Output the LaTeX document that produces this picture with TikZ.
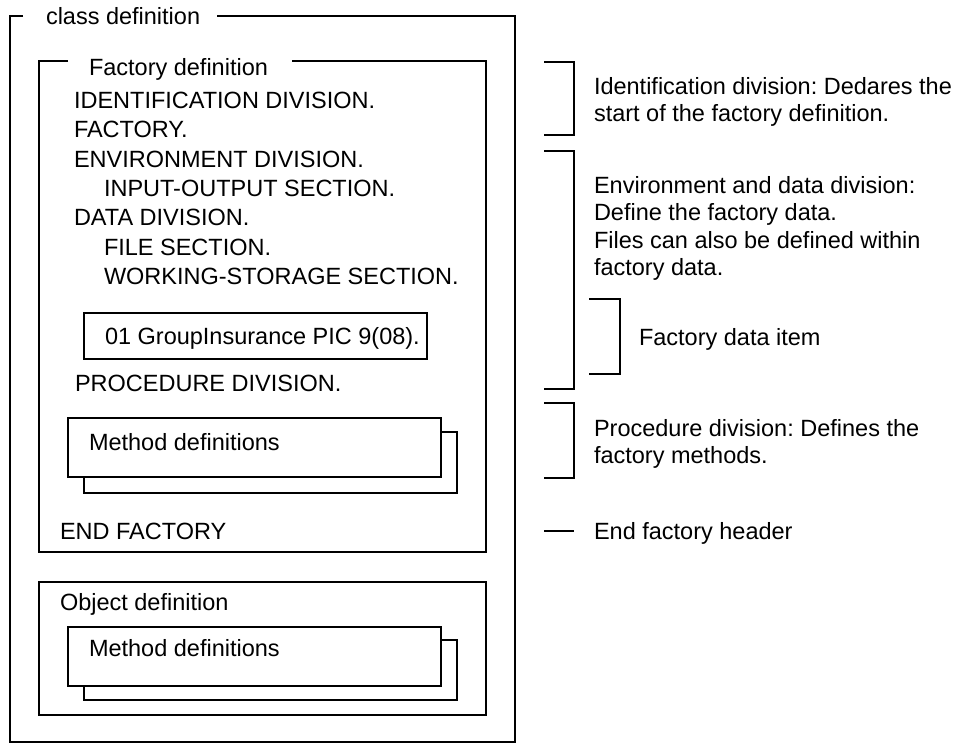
\documentclass[tikz,border=0pt]{standalone}
\usepackage{fontspec}
\setmainfont{Liberation Sans}
\frenchspacing
\begin{document}
\begin{tikzpicture}[x=0.5pt,y=-0.5pt,line width=1pt,line join=miter,
  txt/.style={anchor=base west,inner sep=0pt,font=\fontsize{11.75pt}{13.75pt}\selectfont\frenchspacing},
  note/.style={anchor=north west,inner sep=0pt,align=left,font=\fontsize{11.75pt}{13.75pt}\selectfont\frenchspacing},
  boxline/.style={draw=black,line width=1pt},
  sheet/.style={draw=black,fill=white,line width=1pt}]
\useasboundingbox (0,0) rectangle (961,744);
% class definition frame
\node[txt] (cls) at (45,24.4) {class definition};
\draw[boxline] (23,16) -- (10,16) -- (10,742) -- (515,742) -- (515,16) -- (217,16);
% factory definition frame
\node[txt] (fac) at (88,75.4) {Factory definition};
\draw[boxline] (68,61) -- (39,61) -- (39,552) -- (486,552) -- (486,61) -- (292,61);
\node[txt] (l1) at (73,108.4) {IDENTIFICATION DIVISION.};
\node[txt] (l2) at (73,137.9) {FACTORY.};
\node[txt] (l3) at (73,167.4) {ENVIRONMENT DIVISION.};
\node[txt] (l4) at (103,196.4) {INPUT-OUTPUT SECTION.};
\node[txt] (l5) at (73,225.9) {DATA DIVISION.};
\node[txt] (l6) at (103,255.4) {FILE SECTION.};
\node[txt] (l7) at (103,284.9) {WORKING-STORAGE SECTION.};
\draw[boxline] (84,313) rectangle (427,359);
\node[txt] (item) at (104,344.4) {01 GroupInsurance PIC 9(08).};
\node[txt] (proc) at (74,391.4) {PROCEDURE DIVISION.};
\draw[sheet] (84,432) rectangle (457,493);
\draw[sheet] (68,418) rectangle (441,477);
\node[txt] (m1) at (88,450.4) {Method definitions};
\node[txt] (endf) at (59,539.4) {END FACTORY};
% object definition
\draw[boxline] (39,582) rectangle (486,715);
\node[txt] (obj) at (59,610.4) {Object definition};
\draw[sheet] (84,640) rectangle (457,700);
\draw[sheet] (68,627) rectangle (441,686);
\node[txt] (m2) at (88,656.4) {Method definitions};
% right-hand brackets
\draw[boxline] (544,62) -- (574,62) -- (574,135) -- (544,135);
\draw[boxline] (544,151) -- (574,151) -- (574,389) -- (544,389);
\draw[boxline] (589,299) -- (620,299) -- (620,374) -- (589,374);
\draw[boxline] (544,403) -- (574,403) -- (574,478) -- (544,478);
\draw[boxline] (544,531) -- (574,531);
\node[note] (n1) at (593,76.3) {Identification division: Dedares the\\start of the factory definition.};
\node[note] (n2) at (593,175.3) {Environment and data division:\\Define the factory data.\\Files can also be defined within\\factory data.};
\node[txt] (n3) at (638,345.4) {Factory data item};
\node[note] (n4) at (593,418.3) {Procedure division: Defines the\\factory methods.};
\node[txt] (n5) at (593,539.4) {End factory header};
\end{tikzpicture}
\end{document}
